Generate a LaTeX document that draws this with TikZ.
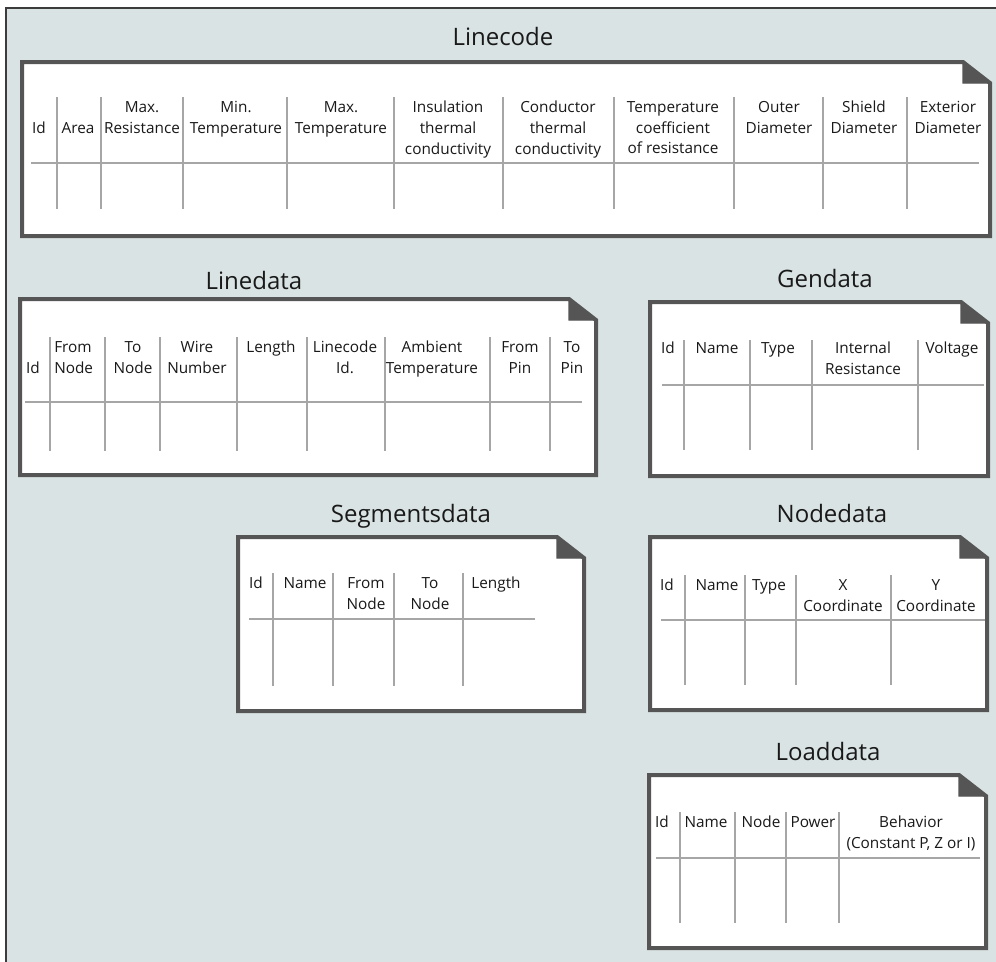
\documentclass[tikz,border=0pt]{standalone}
\usepackage{fontspec}
\setmainfont{Open Sans}
\definecolor{panelbg}{RGB}{218,227,227}
\definecolor{framecol}{RGB}{60,60,60}
\definecolor{sheetedge}{RGB}{85,85,85}
\definecolor{gridcol}{RGB}{166,166,166}
\definecolor{txt}{RGB}{25,25,25}
% note-shaped sheet with a folded top-right corner
% #1 left, #2 top, #3 right, #4 bottom (centre line of the edge)
\newcommand\notesheet[4]{%
  \path[sheet] (#1,#2) -- ({#3-27},#2) -- (#3,{#2+21}) -- (#3,#4) -- (#1,#4) -- cycle;
  \path[fold] ({#3-27},#2) -- ({#3-27},{#2+21}) -- (#3,{#2+21}) -- cycle;
}
\begin{document}
\begin{tikzpicture}[x=0.75pt,y=-0.75pt,
  panel/.style={fill=panelbg,draw=framecol,line width=1.1pt},
  sheet/.style={fill=white,draw=sheetedge,line width=3pt,line join=miter},
  fold/.style={fill=sheetedge,draw=sheetedge,line width=0.8pt,line join=miter},
  grid/.style={draw=gridcol,line width=1.5pt},
  title/.style={font=\fontsize{18}{22}\selectfont,text=txt,anchor=base,inner sep=0pt},
  hdr/.style={font=\fontsize{11.5}{15.6}\selectfont,text=txt,align=center,anchor=north,inner sep=0pt},
]
\useasboundingbox (0,0) rectangle (996,961);
\path[fill=white] (0,0) rectangle (996,961);
\path[panel] (6,8) rectangle (1004,970);

% ---------------- Linecode ----------------
\node[title] (t-linecode) at (503,45) {Linecode};
\notesheet{22}{62}{990}{236}
\foreach \x in {57,101,183,287,394,503,614,734,823,907}
  \draw[grid] (\x,97) -- (\x,209);
\draw[grid] (31,163) -- (979,163);
\node[hdr] (lc-id) at (39,122) {Id};
\node[hdr] (lc-area) at (78,122) {Area};
\node[hdr] (lc-maxres) at (142,101) {Max.\\Resistance};
\node[hdr] (lc-mintemp) at (236,101) {Min.\\Temperature};
\node[hdr] (lc-maxtemp) at (341,101) {Max.\\Temperature};
\node[hdr] (lc-insul) at (448,101) {Insulation\\thermal\\conductivity};
\node[hdr] (lc-cond) at (558,101) {Conductor\\thermal\\conductivity};
\node[hdr] (lc-tcoef) at (673,101) {Temperature\\coefficient\\of resistance};
\node[hdr] (lc-outer) at (779,101) {Outer\\Diameter};
\node[hdr] (lc-shield) at (864,101) {Shield\\Diameter};
\node[hdr] (lc-ext) at (948,101) {Exterior\\Diameter};

% ---------------- Linedata ----------------
\node[title] (t-linedata) at (254,289) {Linedata};
\notesheet{20}{299}{596}{475}
\foreach \x in {50,105,160,237,307,385,490,550}
  \draw[grid] (\x,337) -- (\x,451);
\draw[grid] (25,402) -- (582,402);
\node[hdr] (ld-id) at (33,362) {Id};
\node[hdr,align=left,anchor=north west] (ld-from) at (54,341) {From\\Node};
\node[hdr] (ld-to) at (133,341) {To\\Node};
\node[hdr] (ld-wire) at (197,341) {Wire\\Number};
\node[hdr] (ld-len) at (271,341) {Length};
\node[hdr] (ld-lcid) at (345,341) {Linecode\\Id.};
\node[hdr] (ld-amb) at (432,341) {Ambient\\Temperature};
\node[hdr] (ld-fpin) at (520,341) {From\\Pin};
\node[hdr] (ld-tpin) at (572,341) {To\\Pin};

% ---------------- Gendata ----------------
\node[title] (t-gendata) at (825,287) {Gendata};
\notesheet{650}{302}{988}{476}
\foreach \x in {684,750,812,918}
  \draw[grid] (\x,340) -- (\x,450);
\draw[grid] (662,385) -- (984,385);
\node[hdr] (gd-id) at (668,342) {Id};
\node[hdr] (gd-name) at (717,342) {Name};
\node[hdr] (gd-type) at (778,342) {Type};
\node[hdr] (gd-rint) at (863,342) {Internal\\Resistance};
\node[hdr] (gd-volt) at (952,342) {Voltage};

% ---------------- Segmentsdata ----------------
\node[title] (t-segments) at (411,522) {Segmentsdata};
\notesheet{238}{537}{584}{711}
\foreach \x in {273,333,394,463}
  \draw[grid] (\x,573) -- (\x,686);
\draw[grid] (249,619) -- (535,619);
\node[hdr] (sd-id) at (256,577) {Id};
\node[hdr] (sd-name) at (305,577) {Name};
\node[hdr] (sd-from) at (366,577) {From\\Node};
\node[hdr] (sd-to) at (430,577) {To\\Node};
\node[hdr] (sd-len) at (496,577) {Length};

% ---------------- Nodedata ----------------
\node[title] (t-nodedata) at (832,522) {Nodedata};
\notesheet{650}{537}{987}{710}
\foreach \x in {685,745,796,891}
  \draw[grid] (\x,575) -- (\x,685);
\draw[grid] (661,620) -- (985,620);
\node[hdr] (nd-id) at (667,579) {Id};
\node[hdr] (nd-name) at (717,579) {Name};
\node[hdr] (nd-type) at (769,579) {Type};
\node[hdr] (nd-x) at (843,579) {X\\Coordinate};
\node[hdr] (nd-y) at (936,579) {Y\\Coordinate};

% ---------------- Loaddata ----------------
\node[title] (t-loaddata) at (828,760) {Loaddata};
\notesheet{649}{775}{986}{948}
\foreach \x in {680,735,786,839}
  \draw[grid] (\x,812) -- (\x,923);
\draw[grid] (656,858) -- (980,858);
\node[hdr] (ldd-id) at (662,816) {Id};
\node[hdr] (ldd-name) at (706,816) {Name};
\node[hdr] (ldd-node) at (761,816) {Node};
\node[hdr] (ldd-power) at (813,816) {Power};
\node[hdr] (ldd-beh) at (911,816) {Behavior\\(Constant P, Z or I)};
\end{tikzpicture}
\end{document}
